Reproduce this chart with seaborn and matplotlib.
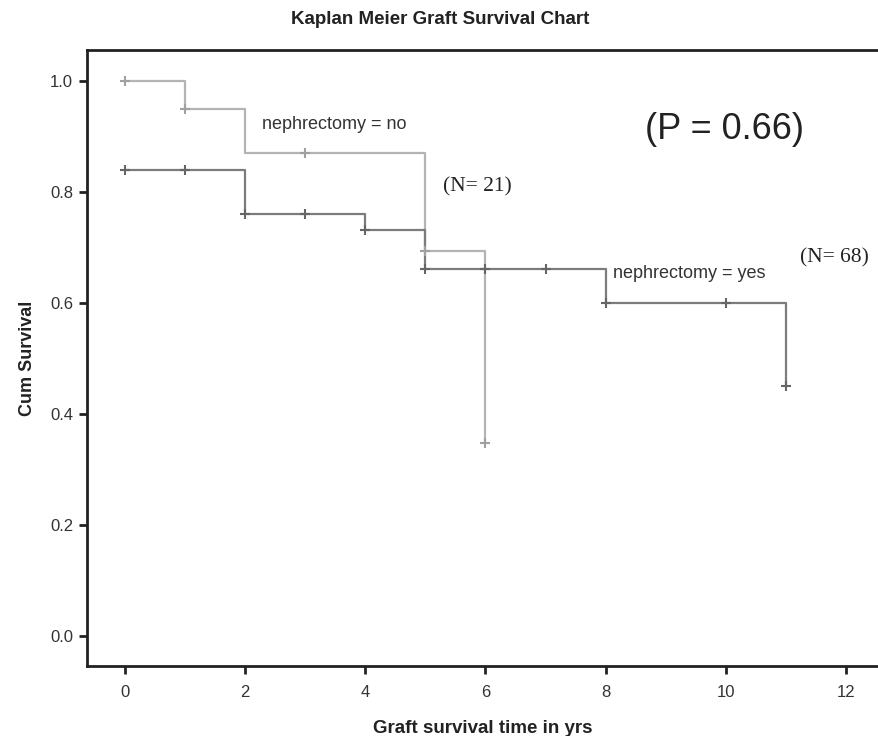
import matplotlib
matplotlib.use("Agg")
import matplotlib.pyplot as plt
import seaborn as sns
import pandas as pd

# Step data (time, cumulative survival)
no_times = [0, 1, 2, 5, 6]
no_surv = [1.0, 0.95, 0.87, 0.694, 0.348]
no_cens_t = [0, 1, 3, 5, 6]
no_cens_s = [1.0, 0.95, 0.87, 0.694, 0.348]

yes_times = [0, 2, 4, 5, 8, 11]
yes_surv = [0.84, 0.76, 0.731, 0.661, 0.60, 0.451]
yes_cens_t = [0, 1, 2, 3, 4, 5, 6, 7, 8, 10, 11]
yes_cens_s = [0.84, 0.84, 0.76, 0.76, 0.731, 0.661, 0.661, 0.661, 0.60, 0.60, 0.451]

x_ticks = [0, 2, 4, 6, 8, 10, 12]
y_ticks = [0.0, 0.2, 0.4, 0.6, 0.8, 1.0]

sns.set_theme(style="white")
plt.rcParams['font.family'] = ['Liberation Sans', 'DejaVu Sans']

fig = plt.figure(figsize=(8.79, 7.36), dpi=100)
ax = fig.add_axes([87 / 879, 1 - 666 / 736, 1 - 87 / 879, (666 - 50) / 736])

c_no = "#b4b4b4"
c_yes = "#7c7c7c"

df_no = pd.DataFrame({"t": no_times, "s": no_surv})
df_yes = pd.DataFrame({"t": yes_times, "s": yes_surv})
sns.lineplot(data=df_no, x="t", y="s", ax=ax, color=c_no, lw=1.6,
             drawstyle="steps-post", estimator=None, sort=False)
sns.lineplot(data=df_yes, x="t", y="s", ax=ax, color=c_yes, lw=1.6,
             drawstyle="steps-post", estimator=None, sort=False)

sns.scatterplot(x=no_cens_t, y=no_cens_s, ax=ax, marker="+", s=55,
                color="#a0a0a0", linewidth=1.5, zorder=3)
sns.scatterplot(x=yes_cens_t, y=yes_cens_s, ax=ax, marker="+", s=55,
                color="#666666", linewidth=1.5, zorder=3)

ax.set_xlim(-0.632, 12.55)
ax.set_ylim(-0.054, 1.056)
ax.set_xticks(x_ticks)
ax.set_xticklabels([str(v) for v in x_ticks])
ax.set_yticks(y_ticks)
ax.set_yticklabels([f"{v:.1f}" for v in y_ticks])

for side in ["left", "bottom", "top"]:
    ax.spines[side].set_visible(True)
    ax.spines[side].set_color("#222222")
    ax.spines[side].set_linewidth(2.0)
ax.spines["right"].set_visible(False)

ax.tick_params(axis="both", direction="out", length=6, width=2, color="#222222",
               labelsize=12, labelcolor="#333333", bottom=True, left=True, pad=4)
ax.tick_params(axis="x", pad=8)

ax.set_xlabel("Graft survival time in yrs", fontsize=13.5, fontweight="bold",
              color="#222222", labelpad=14)
ax.set_ylabel("Cum Survival", fontsize=13, fontweight="bold", color="#222222",
              labelpad=10)
fig.text(440 / 879, 1 - 20 / 736, "Kaplan Meier Graft Survival Chart",
         ha="center", va="center", fontsize=13.5, fontweight="bold", color="#222222")

ax.text(2.28, 0.921, "nephrectomy = no", fontsize=13, color="#333333",
        ha="left", va="center")
ax.text(8.12, 0.654, "nephrectomy = yes", fontsize=13, color="#333333",
        ha="left", va="center")
ax.text(5.29, 0.809, "(N= 21)", fontsize=15.5, family="Liberation Serif",
        color="#222222", ha="left", va="center")
ax.text(11.23, 0.681, "(N= 68)", fontsize=15.5, family="Liberation Serif",
        color="#222222", ha="left", va="center")
ax.text(8.65, 0.912, "(P = 0.66)", fontsize=26, color="#222222",
        ha="left", va="center")

fig.savefig("out.png", dpi=100)
